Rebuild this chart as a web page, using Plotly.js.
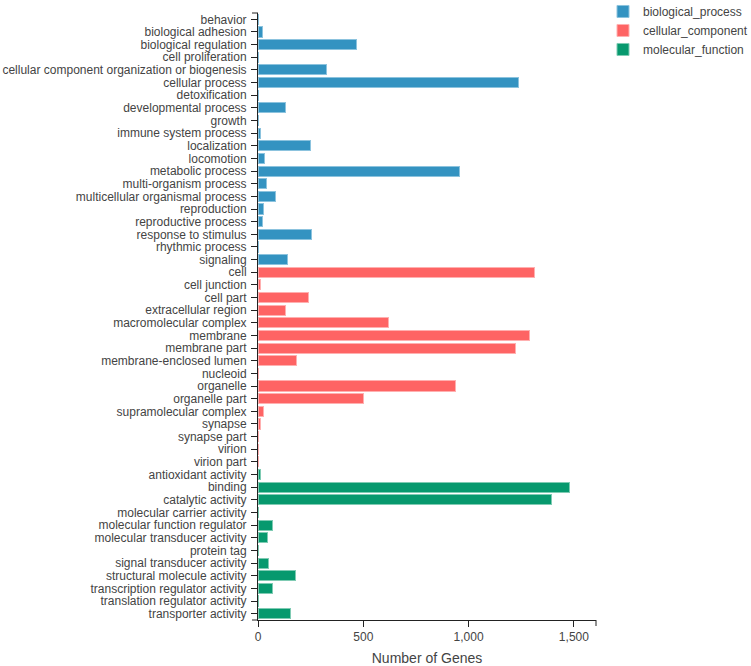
<!DOCTYPE html>
<html>
<head>
<meta charset="utf-8">
<script src="https://cdn.plot.ly/plotly-3.0.1.min.js"></script>
<style>html,body{margin:0;padding:0;background:#fff;}#chart{width:751px;height:666px;}</style>
</head>
<body>
<div id="chart"></div>
<script>
var bpTerms = ["behavior","biological adhesion","biological regulation","cell proliferation","cellular component organization or biogenesis","cellular process","detoxification","developmental process","growth","immune system process","localization","locomotion","metabolic process","multi-organism process","multicellular organismal process","reproduction","reproductive process","response to stimulus","rhythmic process","signaling"];
var bpValues = [3,19,469,1,323,1236,1,130,3,13,250,30,956,40,84,27,19,253,1,141];

var ccTerms = ["cell","cell junction","cell part","extracellular region","macromolecular complex","membrane","membrane part","membrane-enclosed lumen","nucleoid","organelle","organelle part","supramolecular complex","synapse","synapse part","virion","virion part"];
var ccValues = [1312,11,242,131,620,1288,1223,182,1,940,500,25,13,3,4,4];

var mfTerms = ["antioxidant activity","binding","catalytic activity","molecular carrier activity","molecular function regulator","molecular transducer activity","protein tag","signal transducer activity","structural molecule activity","transcription regulator activity","translation regulator activity","transporter activity"];
var mfValues = [13,1478,1393,1,68,44,1,52,176,71,1,154];

var seriesNames = ["biological_process","cellular_component","molecular_function"];
var xTicks = [0,500,1000,1500];

var colors = ["#3493c1","#fe6464","#07996e"];
var lineColors = ["#8cc3de","#ffb0b0","#7fcbb3"];

var allTerms = bpTerms.concat(ccTerms, mfTerms);
var groups = [[bpTerms,bpValues],[ccTerms,ccValues],[mfTerms,mfValues]];

var traces = groups.map(function(g,i){
  return {
    type:'bar', orientation:'h',
    y:g[0], x:g[1], name:seriesNames[i],
    marker:{color:colors[i], line:{color:lineColors[i], width:1}},
    hoverinfo:'x+y'
  };
});

var axisColor = '#222';
var layout = {
  width:751, height:666,
  margin:{l:258, r:155, t:13, b:46, pad:0, autoexpand:false},
  paper_bgcolor:'#fff', plot_bgcolor:'#fff',
  font:{family:'"Liberation Sans", Arial, sans-serif', size:12, color:'#444'},
  barmode:'stack', bargap:0.2,
  showlegend:true,
  legend:{xref:'container', yref:'paper', x:603/751, xanchor:'left', y:1.0264, yanchor:'top',
          bgcolor:'rgba(0,0,0,0)', font:{size:12, color:'#444'}, tracegroupgap:0, traceorder:'normal'},
  xaxis:{
    range:[0,1605], tickvals:xTicks, tickformat:',d',
    showgrid:false, zeroline:false, showline:true, linecolor:axisColor, linewidth:1,
    ticks:'outside', ticklen:6, tickcolor:axisColor,
    tickfont:{size:12, color:'#444'},
    title:{text:'Number of Genes', font:{size:14, color:'#444'}, standoff:12},
    fixedrange:true
  },
  yaxis:{
    type:'category', categoryorder:'array', categoryarray:allTerms,
    tickmode:'array', tickvals:allTerms, ticktext:allTerms,
    autorange:'reversed',
    showgrid:false, zeroline:false, showline:true, linecolor:axisColor, linewidth:1,
    ticks:'outside', ticklen:6, tickcolor:axisColor,
    tickfont:{size:12, color:'#444'}, ticklabelstandoff:2,
    fixedrange:true
  },
  shapes:[
    {type:'line', xref:'x domain', yref:'y domain', x0:1, x1:1,
     ysizemode:'pixel', yanchor:0, y0:0, y1:-6, line:{color:axisColor, width:1}},
    {type:'line', xref:'x domain', yref:'y domain', y0:1, y1:1,
     xsizemode:'pixel', xanchor:0, x0:0, x1:-6, line:{color:axisColor, width:1}},
    {type:'line', xref:'x domain', yref:'y domain', y0:0, y1:0,
     xsizemode:'pixel', xanchor:0, x0:0, x1:-6, line:{color:axisColor, width:1}}
  ]
};

Plotly.newPlot('chart', traces, layout, {displayModeBar:false, staticPlot:true});
</script>
</body>
</html>
